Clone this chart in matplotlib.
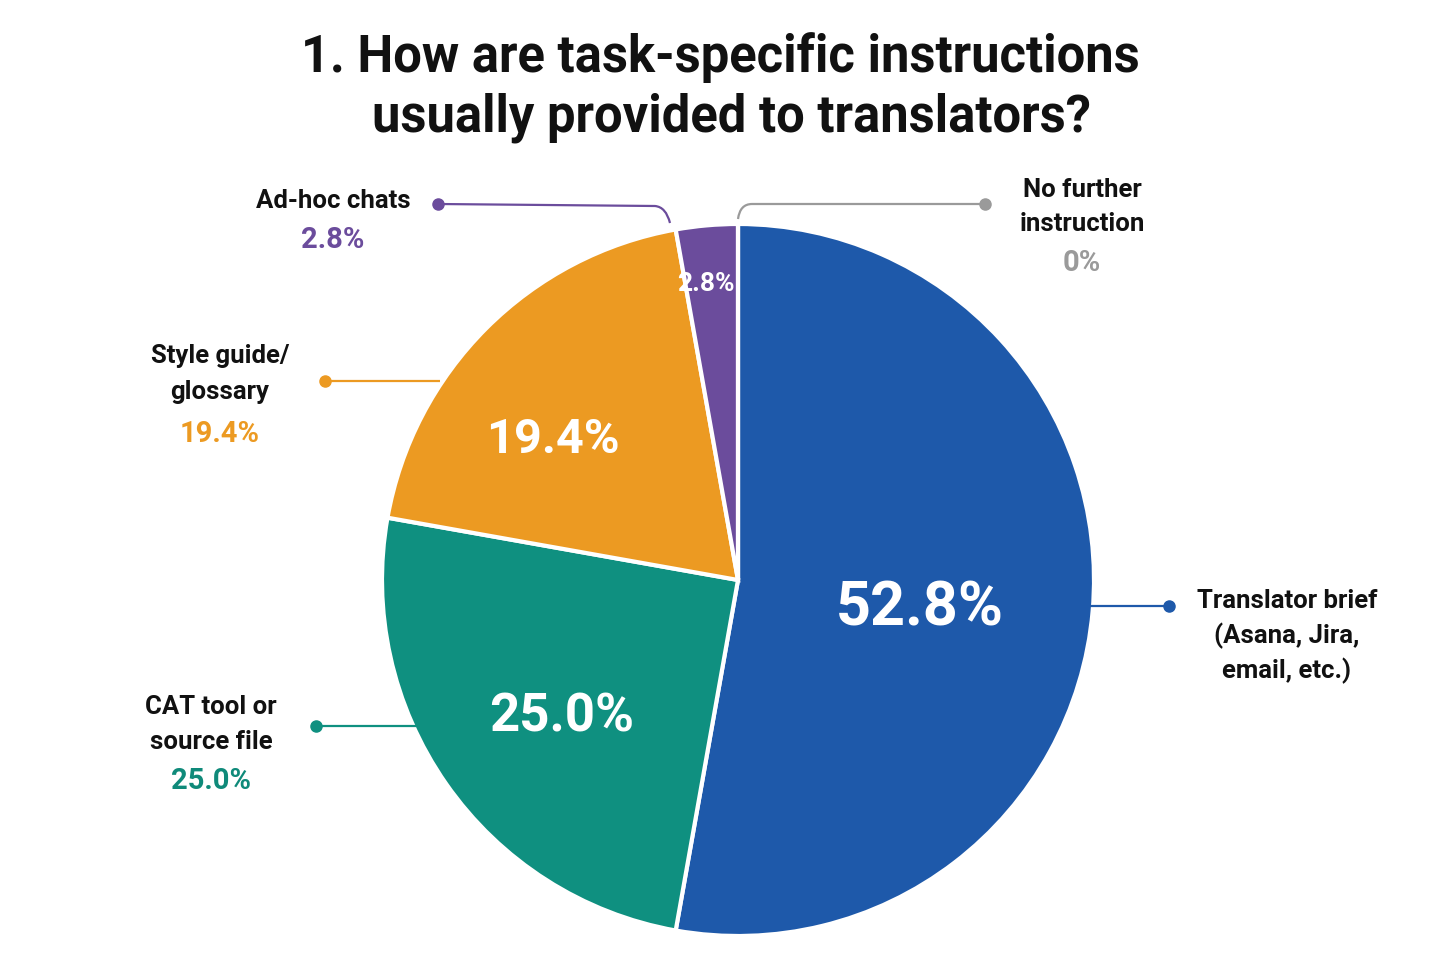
import matplotlib
matplotlib.use("Agg")
import matplotlib.pyplot as plt
from matplotlib.path import Path
from matplotlib.patches import PathPatch

# ---- data ----
categories = ["Translator brief\n(Asana, Jira,\nemail, etc.)", "CAT tool or\nsource file",
              "Style guide/\nglossary", "Ad-hoc chats", "No further\ninstruction"]
values = [52.8, 25.0, 19.4, 2.8, 0.0]
value_labels = ["52.8%", "25.0%", "19.4%", "2.8%", "0%"]
colors = ["#1E59AA", "#0F9080", "#EC9A22", "#6B4C9C", "#9A9A9A"]
title = "1. How are task-specific instructions\nusually provided to translators?"

W, H = 1452, 958
fig = plt.figure(figsize=(W / 100, H / 100), dpi=100)
ax = fig.add_axes([0, 0, 1, 1])

def Y(y):
    return H - y

FONT = ["Roboto", "DejaVu Sans"]
cx, cy, R = 738, 580, 356

wedges, _ = ax.pie(values, colors=colors, startangle=90, counterclock=False,
                   center=(cx, Y(cy)), radius=R,
                   wedgeprops=dict(edgecolor="white", linewidth=3))
ax.set_xlim(0, W)
ax.set_ylim(0, H)
ax.set_aspect("equal")
ax.axis("off")

# title
t1, t2 = title.split("\n")
ax.text(720, Y(58), t1, ha="center", va="center",
        fontsize=36.5, fontweight="bold", family=FONT, color="#111111")
ax.text(732, Y(118), t2, ha="center", va="center",
        fontsize=36.5, fontweight="bold", family=FONT, color="#111111")

# inner labels
inner = [(920, 608, 44), (562, 717, 38), (553, 440, 35), (706, 284, 19)]
for (x, y, fs), lab in zip(inner, value_labels[:4]):
    ax.text(x, Y(y), lab, ha="center", va="center", fontsize=fs,
            fontweight="bold", family=FONT, color="white", zorder=5)

# outer labels: (x, [line ys], pct y)
outer = [
    (1287, [601, 636, 671], None),
    (211, [707, 742], 781),
    (220, [356, 392], 434),
    (333, [201], 240),
    (1082, [190, 224], 263),
]
pct_colors = ["#1E59AA", "#0F8A7A", "#EC9A22", "#6B4C9C", "#9A9A9A"]
for i, (x, ys, py) in enumerate(outer):
    lines = categories[i].split("\n")
    for ln, yy in zip(lines, ys):
        ax.text(x, Y(yy), ln, ha="center", va="center", fontsize=18.5,
                fontweight="bold", family=FONT, color="#111111")
    if py is not None:
        ax.text(x, Y(py), value_labels[i], ha="center", va="center", fontsize=21,
                fontweight="bold", family=FONT, color=pct_colors[i])

# connectors
def straight(x0, x1, y, c):
    ax.plot([x0, x1], [Y(y), Y(y)], color=c, lw=1.6, solid_capstyle="butt", zorder=3)
    ax.plot([x1], [Y(y)], "o", color=c, ms=8, zorder=4)

straight(1088, 1169, 606, colors[0])
straight(420, 316, 726, colors[1])
straight(440, 325, 381, colors[2])

def curved(pts, dot, c):
    verts = [(x, Y(y)) for x, y in pts]
    codes = [Path.MOVETO, Path.LINETO, Path.CURVE3, Path.CURVE3]
    ax.add_patch(PathPatch(Path(verts, codes), fill=False, edgecolor=c, lw=1.6, zorder=3))
    ax.plot([dot[0]], [Y(dot[1])], "o", color=c, ms=8, zorder=4)

curved([(438, 204), (655, 206), (666, 207), (670, 223)], (438, 204), colors[3])
curved([(985, 204), (752, 204), (740, 204), (738, 219)], (985, 204), colors[4])

fig.savefig("out.png", dpi=100, facecolor="white")
